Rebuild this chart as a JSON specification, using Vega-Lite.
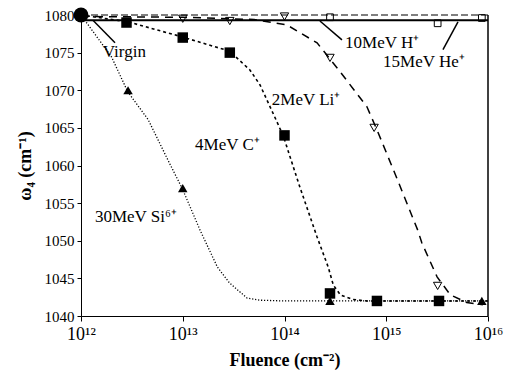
{
  "$schema": "https://vega.github.io/schema/vega-lite/v6.json",
  "autosize": "none",
  "width": 407,
  "height": 301,
  "padding": {"left": 81, "top": 15, "right": 24, "bottom": 66},
  "background": "white",
  "config": {
    "view": {"stroke": null},
    "font": "Times New Roman, serif",
    "text": {"font": "Times New Roman, serif"},
    "axis": {"labelFont": "Times New Roman, serif", "titleFont": "Times New Roman, serif", "labelColor": "black", "titleColor": "black", "domainColor": "black", "tickColor": "black", "grid": false}
  },
  "datasets": {
    "curves": [
      {"series": "Si", "fluence": 1e12, "w": 1080},
      {"series": "Si", "fluence": 2.0e12, "w": 1074.4},
      {"series": "Si", "fluence": 2.88e12, "w": 1069.8},
      {"series": "Si", "fluence": 4.57e12, "w": 1066.1},
      {"series": "Si", "fluence": 7.41e12, "w": 1060.3},
      {"series": "Si", "fluence": 1e13, "w": 1056.8},
      {"series": "Si", "fluence": 1.48e13, "w": 1051.4},
      {"series": "Si", "fluence": 2.19e13, "w": 1046.5},
      {"series": "Si", "fluence": 2.88e13, "w": 1044.4},
      {"series": "Si", "fluence": 4.27e13, "w": 1042.4},
      {"series": "Si", "fluence": 5.75e13, "w": 1042.1},
      {"series": "Si", "fluence": 1e14, "w": 1042},
      {"series": "Si", "fluence": 1e16, "w": 1042},
      {"series": "C", "fluence": 1e12, "w": 1080},
      {"series": "C", "fluence": 2.88e12, "w": 1079.1},
      {"series": "C", "fluence": 9.8e12, "w": 1077.1},
      {"series": "C", "fluence": 2.88e13, "w": 1075.2},
      {"series": "C", "fluence": 4.57e13, "w": 1072.7},
      {"series": "C", "fluence": 5.75e13, "w": 1070.7},
      {"series": "C", "fluence": 8.5e13, "w": 1065.7},
      {"series": "C", "fluence": 9.8e13, "w": 1063.8},
      {"series": "C", "fluence": 1.41e14, "w": 1057.2},
      {"series": "C", "fluence": 2.09e14, "w": 1050.5},
      {"series": "C", "fluence": 2.69e14, "w": 1046.5},
      {"series": "C", "fluence": 3.02e14, "w": 1044.1},
      {"series": "C", "fluence": 3.55e14, "w": 1042.8},
      {"series": "C", "fluence": 4.68e14, "w": 1042.2},
      {"series": "C", "fluence": 6.46e14, "w": 1042},
      {"series": "C", "fluence": 1e16, "w": 1042},
      {"series": "Li", "fluence": 1e12, "w": 1079.8},
      {"series": "Li", "fluence": 1e13, "w": 1079.7},
      {"series": "Li", "fluence": 5e13, "w": 1079.4},
      {"series": "Li", "fluence": 1.05e14, "w": 1078.7},
      {"series": "Li", "fluence": 2.09e14, "w": 1076.3},
      {"series": "Li", "fluence": 3.55e14, "w": 1072.4},
      {"series": "Li", "fluence": 6.46e14, "w": 1067.8},
      {"series": "Li", "fluence": 8.13e14, "w": 1064.7},
      {"series": "Li", "fluence": 1.29e15, "w": 1058.1},
      {"series": "Li", "fluence": 2.04e15, "w": 1051.4},
      {"series": "Li", "fluence": 2.24e15, "w": 1049.7},
      {"series": "Li", "fluence": 3.16e15, "w": 1045.2},
      {"series": "Li", "fluence": 4.27e15, "w": 1042.8},
      {"series": "Li", "fluence": 6.17e15, "w": 1041.8},
      {"series": "Li", "fluence": 8.9e15, "w": 1041.5},
      {"series": "He", "fluence": 1e12, "w": 1079.3},
      {"series": "He", "fluence": 1e16, "w": 1079.3},
      {"series": "H", "fluence": 1e12, "w": 1080},
      {"series": "H", "fluence": 1e16, "w": 1080}
    ],
    "points": [
      {"series": "Si", "fluence": 1e12, "w": 1080},
      {"series": "Si", "fluence": 2.9e12, "w": 1070},
      {"series": "Si", "fluence": 1e13, "w": 1057},
      {"series": "Si", "fluence": 2.8e14, "w": 1042},
      {"series": "Si", "fluence": 8.7e15, "w": 1042},
      {"series": "C", "fluence": 1e12, "w": 1080},
      {"series": "C", "fluence": 2.8e12, "w": 1079},
      {"series": "C", "fluence": 1e13, "w": 1077},
      {"series": "C", "fluence": 2.9e13, "w": 1075},
      {"series": "C", "fluence": 1e14, "w": 1064},
      {"series": "C", "fluence": 2.8e14, "w": 1043},
      {"series": "C", "fluence": 8.1e14, "w": 1042},
      {"series": "C", "fluence": 3.3e15, "w": 1042},
      {"series": "Li", "fluence": 1e13, "w": 1079.5},
      {"series": "Li", "fluence": 2.9e13, "w": 1079.2},
      {"series": "Li", "fluence": 1e14, "w": 1079.8},
      {"series": "Li", "fluence": 2.8e14, "w": 1074.3},
      {"series": "Li", "fluence": 7.6e14, "w": 1065},
      {"series": "Li", "fluence": 3.2e15, "w": 1044},
      {"series": "H", "fluence": 2.8e14, "w": 1079.7},
      {"series": "H", "fluence": 3.2e15, "w": 1078.9},
      {"series": "H", "fluence": 8.7e15, "w": 1079.6},
      {"series": "Virgin", "fluence": 1e12, "w": 1080}
    ],
    "labels": [
      {"label": "Virgin", "fluence": 1.64e12, "w": 1075.1},
      {"label": "10MeV H⁺", "fluence": 3.94e14, "w": 1076.3},
      {"label": "15MeV He⁺", "fluence": 9.3e14, "w": 1073.8},
      {"label": "2MeV Li⁺", "fluence": 7.5e13, "w": 1068.7},
      {"label": "4MeV C⁺", "fluence": 1.32e13, "w": 1062.7},
      {"label": "30MeV Si⁶⁺", "fluence": 1.37e12, "w": 1053.2}
    ],
    "pointers": [
      {"fluence": 1.31e12, "w": 1079.3, "fluence2": 2.16e12, "w2": 1076.3},
      {"fluence": 2.23e14, "w": 1079.2, "fluence2": 3.67e14, "w2": 1076.7},
      {"fluence": 5.07e15, "w": 1079.1, "fluence2": 3.61e15, "w2": 1075.4},
      {"fluence": 1e16, "w": 1040, "fluence2": 1e16, "w2": 1080}
    ]
  },
  "encoding": {
    "x": {"field": "fluence", "type": "quantitative",
      "scale": {"type": "log", "domain": [1e12, 1e16], "nice": false},
      "axis": {"title": "Fluence (cm⁻²)", "titleFontSize": 18, "titleFontWeight": "bold", "titlePadding": 8,
        "values": [1e12, 1e13, 1e14, 1e15, 1e16], "labelFontSize": 18, "labelPadding": 4, "tickSize": 5, "labelFlush": false,
        "labelExpr": "datum.value < 5e12 ? '10¹²' : datum.value < 5e13 ? '10¹³' : datum.value < 5e14 ? '10¹⁴' : datum.value < 5e15 ? '10¹⁵' : '10¹⁶'"}},
    "y": {"field": "w", "type": "quantitative",
      "scale": {"domain": [1040, 1080], "nice": false, "zero": false},
      "axis": {"title": "ω₄ (cm⁻¹)", "titleFontSize": 18, "titleFontWeight": "bold", "titlePadding": 10, "format": "d",
        "values": [1040, 1045, 1050, 1055, 1060, 1065, 1070, 1075, 1080], "labelFontSize": 15, "tickSize": 4, "labelPadding": 3}}
  },
  "layer": [
    {"data": {"name": "curves"}, "transform": [{"filter": "datum.series == 'Si'"}],
     "mark": {"type": "line", "color": "black", "strokeWidth": 1.3, "strokeDash": [1.2, 1.8], "clip": true}},
    {"data": {"name": "curves"}, "transform": [{"filter": "datum.series == 'C'"}],
     "mark": {"type": "line", "color": "black", "strokeWidth": 1.6, "strokeDash": [3, 3], "clip": true}},
    {"data": {"name": "curves"}, "transform": [{"filter": "datum.series == 'Li'"}],
     "mark": {"type": "line", "color": "black", "strokeWidth": 1.5, "strokeDash": [8, 6], "clip": true}},
    {"data": {"name": "curves"}, "transform": [{"filter": "datum.series == 'He'"}],
     "mark": {"type": "line", "color": "black", "strokeWidth": 1.8}},
    {"data": {"name": "curves"}, "transform": [{"filter": "datum.series == 'H'"}],
     "mark": {"type": "line", "color": "black", "strokeWidth": 1.2, "strokeDash": [7, 3]}},
    {"data": {"name": "pointers"},
     "mark": {"type": "rule", "color": "black", "strokeWidth": 1.5},
     "encoding": {"x2": {"field": "fluence2"}, "y2": {"field": "w2"}}},
    {"data": {"name": "points"}, "transform": [{"filter": "datum.series == 'Si'"}],
     "mark": {"type": "point", "shape": "triangle-up", "filled": true, "color": "black", "size": 90, "opacity": 1}},
    {"data": {"name": "points"}, "transform": [{"filter": "datum.series == 'C'"}],
     "mark": {"type": "point", "shape": "square", "filled": true, "color": "black", "size": 110, "opacity": 1}},
    {"data": {"name": "points"}, "transform": [{"filter": "datum.series == 'Li'"}],
     "mark": {"type": "point", "shape": "triangle-down", "filled": false, "color": "black", "size": 70, "strokeWidth": 1, "opacity": 1}},
    {"data": {"name": "points"}, "transform": [{"filter": "datum.series == 'H'"}],
     "mark": {"type": "point", "shape": "square", "filled": false, "color": "black", "size": 45, "strokeWidth": 1, "opacity": 1}},
    {"data": {"name": "points"}, "transform": [{"filter": "datum.series == 'Virgin'"}],
     "mark": {"type": "point", "shape": "circle", "filled": true, "color": "black", "size": 220, "opacity": 1}},
    {"data": {"name": "labels"},
     "mark": {"type": "text", "align": "left", "baseline": "middle", "fontSize": 17, "font": "Times New Roman, serif", "color": "black"},
     "encoding": {"text": {"field": "label"}}}
  ]
}
